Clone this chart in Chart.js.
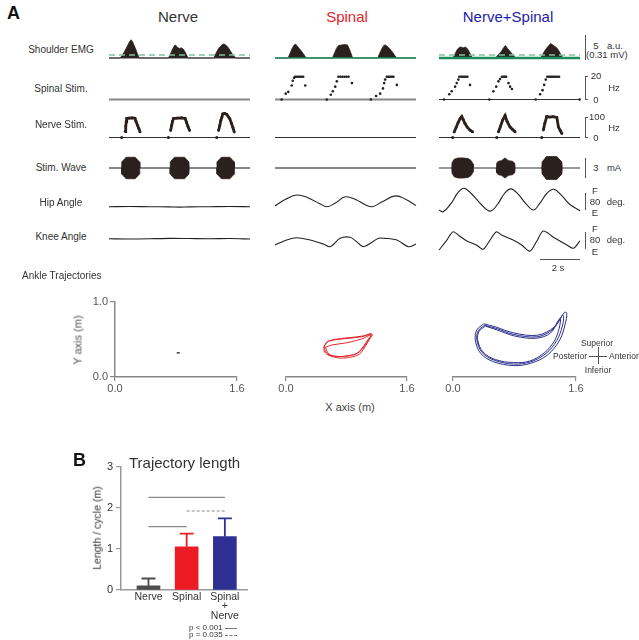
<!DOCTYPE html>
<html>
<head>
<meta charset="utf-8">
<script src="https://cdn.jsdelivr.net/npm/chart.js@4.4.1/dist/chart.umd.min.js"></script>
<style>
body { margin: 0; background: #fff; width: 639px; height: 640px; position: relative; overflow: hidden;
       font-family: "Liberation Sans", Arial, sans-serif; }
canvas { position: absolute; }
.t { position: absolute; white-space: nowrap; line-height: 1; color: #333; }
.ln { position: absolute; background: #555; }
</style>
</head>
<body>
<script>
// ---------- panel A : recordings (time in s) ----------
var traceSpan = [0, 7];
var conditions = ["Nerve", "Spinal", "Nerve+Spinal"];
var rowNames = ["Shoulder EMG", "Spinal Stim.", "Nerve Stim.", "Stim. Wave", "Hip Angle", "Knee Angle"];

// shoulder EMG envelope [t, a.u.]
var emgNerve = [[0,0],[0.55,0],[0.65,0.5],[0.75,1.2],[0.85,2.0],[0.95,2.8],[1.02,3.4],[1.1,3.8],[1.18,3.3],[1.25,2.6],[1.33,1.8],[1.4,1.0],[1.5,0],
  [2.95,0],[3.05,0.8],[3.15,1.8],[3.25,2.6],[3.3,2.7],[3.4,2.2],[3.5,2.0],[3.6,2.1],[3.7,1.8],[3.8,1.1],[3.92,0],
  [5.2,0],[5.3,0.9],[5.4,1.7],[5.5,2.3],[5.6,2.7],[5.68,2.9],[5.76,2.8],[5.85,2.5],[5.95,2.0],[6.05,1.3],[6.15,0.6],[6.3,0],[7,0]];
var emgSpinal = [[0,0],[0.65,0],[0.75,1.0],[0.85,2.0],[0.95,2.7],[1.02,2.9],[1.1,2.5],[1.2,2.0],[1.3,1.5],[1.42,0.8],[1.55,0],
  [2.85,0],[2.95,1.0],[3.05,2.0],[3.15,2.6],[3.3,2.7],[3.45,2.8],[3.6,2.7],[3.7,1.8],[3.78,0.9],[3.85,0],
  [5.1,0],[5.2,1.0],[5.3,1.9],[5.4,2.6],[5.48,2.7],[5.58,2.4],[5.7,1.9],[5.82,1.3],[5.93,0.6],[6.05,0],[7,0]];
var emgBoth = [[0,0],[0.7,0],[0.8,0.9],[0.9,1.7],[1.0,2.2],[1.1,2.3],[1.2,2.1],[1.3,2.3],[1.4,2.0],[1.5,1.3],[1.58,0.6],[1.65,0],
  [2.8,0],[2.95,0.7],[3.1,1.4],[3.2,2.1],[3.3,2.6],[3.4,2.0],[3.5,1.5],[3.6,1.0],[3.7,0.5],[3.8,0],
  [5.05,0],[5.15,0.8],[5.25,1.5],[5.35,2.1],[5.45,2.6],[5.55,3.0],[5.65,2.7],[5.75,2.4],[5.85,2.1],[5.95,1.5],[6.05,0.7],[6.15,0],[7,0]];
var emgThreshold = [0.6, null, 0.6];

// spinal stimulation frequency [t, Hz]
var spinalStimSpinal = [[0.33,0],[0.53,5],[0.66,6.5],[0.83,12],[0.88,16],[0.95,18.5],[1.0,19.5],[1.08,19.5],[1.16,19.5],[1.24,19.5],[1.32,19.5],[1.4,19.5],[1.5,12],
  [2.57,0],[2.77,4],[2.87,7],[2.99,11],[3.07,15.5],[3.15,19.5],[3.25,19.5],[3.35,19.5],[3.45,19.5],[3.55,19.5],[3.65,19.5],[3.82,14],
  [4.76,0],[5.02,3],[5.22,5],[5.36,9.5],[5.42,14],[5.47,17],[5.55,19.5],[5.63,19.5],[5.71,19.5],[5.8,19.5],[5.88,19.5],[6.05,12.5]];
var spinalStimBoth = [[0.25,0],[0.51,4.5],[0.63,7],[0.8,11],[0.88,14],[0.96,17],[1.01,19.5],[1.09,19.5],[1.17,19.5],[1.25,19.5],[1.33,19.5],[1.41,19.5],[1.54,12.5],
  [2.5,0],[2.7,7],[2.84,11],[2.95,15.5],[3.03,17.5],[3.12,19.5],[3.2,19.5],[3.28,19.5],[3.33,19.5],[3.45,14],[3.53,11],[3.62,9],
  [4.8,0],[5.02,4.5],[5.14,8],[5.22,12.5],[5.3,17],[5.38,19.5],[5.46,19.5],[5.54,19.5],[5.62,19.5],[5.7,19.5],[5.78,19.5],[5.86,19.5],[5.96,19.5],[6.98,0]];

// nerve stimulation frequency [t, Hz]: onset pulses and bursts
var nerveOnsetNerve = [0.63, 2.95, 5.35];
var nerveStimNerve = [
  [[0.8,30],[0.83,55],[0.86,80],[0.88,95],[1.0,97],[1.15,98],[1.29,96],[1.34,80],[1.42,60],[1.48,45],[1.54,28]],
  [[3.06,35],[3.11,60],[3.16,82],[3.2,95],[3.4,97],[3.6,98],[3.78,95],[3.85,75],[3.92,55],[4.0,35]],
  [[5.44,35],[5.5,60],[5.55,85],[5.6,100],[5.65,118],[5.75,120],[5.85,115],[5.95,100],[6.0,93],[6.08,70],[6.15,50],[6.22,27]]];
var nerveOnsetBoth = [0.68, 2.87, 5.1];
var nerveStimBoth = [
  [[0.75,27],[0.85,50],[0.95,75],[1.05,95],[1.13,105],[1.2,90],[1.29,70],[1.4,52],[1.54,37],[1.67,28]],
  [[2.95,28],[3.05,55],[3.15,85],[3.28,110],[3.38,80],[3.53,52],[3.65,40],[3.78,28]],
  [[5.18,37],[5.25,70],[5.35,105],[5.5,102],[5.65,104],[5.85,100],[5.93,52],[6.02,35],[6.1,20]]];

// stimulation waveform amplitude envelope [t, mA]
var stimWaveNerve = [
  [[0.62,0],[0.63,0.9],[0.85,1.6],[1.3,1.6],[1.52,0.9],[1.53,0]],
  [[3.03,0],[3.04,0.9],[3.25,1.6],[3.75,1.6],[3.97,0.9],[3.98,0]],
  [[5.35,0],[5.36,0.9],[5.58,1.6],[6.0,1.6],[6.22,0.9],[6.23,0]]];
var stimWaveBoth = [
  [[0.63,0],[0.65,0.8],[0.75,1.3],[0.95,1.5],[1.2,1.5],[1.45,1.4],[1.6,1.1],[1.69,0.6],[1.71,0]],
  [[2.84,0],[2.86,0.7],[2.95,1.0],[3.1,1.1],[3.28,1.5],[3.45,1.1],[3.65,1.0],[3.76,0.7],[3.78,0]],
  [[5.1,0],[5.12,0.9],[5.33,1.7],[5.85,1.7],[6.1,0.9],[6.12,0]]];

// joint angles [t, deg]
var hipNerve = [[0,0],[1,1],[2,0],[3,-1],[3.5,-2],[4,-1],[5,0],[6,1],[7,0]];
var hipSpinal = [[0,4],[0.55,35],[1.08,53],[1.6,42],[2.2,15],[2.58,0],[3.0,17],[3.48,45],[4.0,33],[4.5,8],[4.83,0],[5.3,21],[5.97,49],[6.5,33],[7,5]];
var hipBoth = [[0,-15],[0.21,-23],[0.6,15],[0.95,65],[1.24,84],[1.6,60],[2.1,10],[2.54,-20],[2.9,10],[3.25,60],[3.57,81],[3.95,55],[4.3,15],[4.69,-15],[5.0,15],[5.35,60],[5.69,79],[6.05,55],[6.5,10],[7,-18]];
var kneeNerve = [[0,1],[1,0],[2,1],[3,3],[4,2],[5,1],[6,2],[7,0]];
var kneeSpinal = [[0,-27],[0.58,-4.5],[1.08,6],[1.74,-4.5],[2.4,-23],[2.74,-35],[3.23,3],[3.73,8],[4.05,-12],[4.4,-35],[5.14,3],[5.47,3],[6.05,-4.5],[6.63,-35],[7,-23]];
var kneeBoth = [[0,-50],[0.35,-10],[0.7,33],[1.0,15],[1.36,-8],[1.86,-27],[2.19,-47],[2.5,-10],[2.85,33],[3.1,18],[3.68,-4.5],[4.1,-27],[4.51,-55],[4.85,-10],[5.18,36],[5.68,8],[6.35,-27],[6.68,-42],[7,-8]];

// ankle trajectories [x m, y m]
var ankleNerve = [[0.81,0.32],[0.85,0.32]];
var ankleSpinal = [
  [[0.50,0.40],[0.54,0.46],[0.65,0.49],[0.84,0.51],[1.00,0.53],[1.14,0.56],[1.10,0.49],[1.04,0.39],[0.97,0.30],[0.85,0.26],[0.71,0.25],[0.58,0.28],[0.51,0.33],[0.50,0.40]],
  [[0.52,0.39],[0.60,0.42],[0.80,0.45],[1.00,0.50],[1.12,0.55],[1.08,0.47],[1.01,0.37],[0.94,0.31],[0.82,0.28],[0.68,0.27],[0.57,0.30],[0.52,0.39]],
  [[0.51,0.41],[0.56,0.47],[0.68,0.50],[0.86,0.52],[1.02,0.54],[1.13,0.57],[1.09,0.50],[1.02,0.40],[0.95,0.32],[0.84,0.28],[0.70,0.27],[0.57,0.29],[0.52,0.34],[0.51,0.41]]];
var ankleBoth = [
  [[0.40,0.70],[0.55,0.66],[0.79,0.58],[1.10,0.55],[1.32,0.66],[1.45,0.85],[1.48,0.84],[1.46,0.70],[1.39,0.49],[1.23,0.29],[1.01,0.18],[0.79,0.15],[0.53,0.20],[0.36,0.31],[0.29,0.49],[0.31,0.62],[0.40,0.70]],
  [[0.41,0.68],[0.56,0.64],[0.79,0.56],[1.10,0.53],[1.30,0.63],[1.42,0.81],[1.44,0.80],[1.42,0.66],[1.35,0.48],[1.21,0.31],[1.01,0.20],[0.79,0.17],[0.54,0.22],[0.38,0.32],[0.31,0.49],[0.33,0.61],[0.41,0.68]],
  [[0.42,0.67],[0.57,0.62],[0.80,0.54],[1.08,0.51],[1.27,0.58],[1.38,0.76],[1.40,0.76],[1.37,0.60],[1.31,0.46],[1.19,0.32],[1.00,0.21],[0.79,0.19],[0.55,0.23],[0.39,0.33],[0.32,0.49],[0.34,0.60],[0.42,0.67]]];
var trajXTicks = [0, 1.6];
var trajYTicks = [0, 1];

// ---------- panel B : trajectory length ----------
var groups = ["Nerve", "Spinal", ["Spinal", "+", "Nerve"]];
var lengthMean = [0.1, 1.05, 1.3];
var lengthSD = [0.18, 0.32, 0.44];
var sigPairs = [[0, 2], [1, 2], [0, 1]];
var sigLevel = [2.25, 1.92, 1.54];
var sigP = ["p < 0.001", "p = 0.035", "p < 0.001"];

// ---------- helpers ----------
var DARK = '#2a211e';
function addCanvas(left, top, w, h) {
  var c = document.createElement('canvas');
  c.width = w; c.height = h;
  c.style.left = left + 'px'; c.style.top = top + 'px';
  c.style.width = w + 'px'; c.style.height = h + 'px';
  document.body.appendChild(c);
  return c.getContext('2d');
}
function text(str, x, y, size, o) {
  o = o || {};
  var d = document.createElement('div');
  d.className = 't';
  d.textContent = str;
  d.style.fontSize = size + 'px';
  d.style.left = x + 'px'; d.style.top = y + 'px';
  var tx = o.align == 'left' ? '0' : o.align == 'right' ? '-100%' : '-50%';
  d.style.transform = 'translate(' + tx + ',-50%)' + (o.rotate ? ' rotate(-90deg)' : '');
  if (o.color) d.style.color = o.color;
  if (o.bold) d.style.fontWeight = 'bold';
  document.body.appendChild(d);
}
function rule(x, y, w, h, color, dashed) {
  var d = document.createElement('div');
  d.className = 'ln';
  d.style.left = x + 'px'; d.style.top = y + 'px';
  d.style.width = w + 'px'; d.style.height = h + 'px';
  if (dashed) { d.style.background = 'none'; d.style.borderTop = h + 'px dashed ' + color; d.style.height = '0'; }
  else d.style.background = color || '#555';
  document.body.appendChild(d);
}
function pts(arr) { return arr.map(function (p) { return {x: p[0], y: p[1]}; }); }
function neg(arr) { return arr.map(function (p) { return {x: p[0], y: -p[1]}; }); }
function line(data, color, width, extra) {
  var ds = {data: data, borderColor: color, backgroundColor: color, borderWidth: width, pointRadius: 0, fill: false, tension: 0, clip: false};
  for (var k in extra) ds[k] = extra[k];
  return ds;
}
function baseline(color, width, level) {
  var v = level || 0;
  return line(pts([[traceSpan[0], v], [traceSpan[1], v]]), color, width);
}

// ---------- panel A traces ----------
var colLeft = [109, 275, 439], colWidth = 141;
var rowBox = [ // top px, bottom px, zero px, px per unit
  [34, 61, 58, 4.8],
  [73, 101, 99.5, 1.17],
  [108, 139, 137.5, 0.2],
  [155, 181, 168, 6.7],
  [185, 215, 206.7, 0.22],
  [226, 254, 239, 0.22]
];
function traceChart(col, row, datasets) {
  var P = 5, b = rowBox[row];
  var ctx = addCanvas(colLeft[col] - P, b[0] - P, colWidth + 2 * P, b[1] - b[0] + 2 * P);
  new Chart(ctx, {
    type: 'line',
    data: {datasets: datasets},
    options: {
      responsive: false, animation: false, devicePixelRatio: 1,
      layout: {padding: P},
      plugins: {legend: {display: false}, tooltip: {enabled: false}},
      scales: {
        x: {type: 'linear', display: false, min: traceSpan[0], max: traceSpan[1]},
        y: {display: false, min: -(b[1] - b[2]) / b[3], max: (b[2] - b[0]) / b[3]}
      }
    }
  });
}

// EMG
var emgData = [emgNerve, emgSpinal, emgBoth];
var emgBase = [['#333', 1], ['#1e8c5a', 1.6], ['#1e8c5a', 2.6]];
emgData.forEach(function (d, c) {
  var ds = [baseline(emgBase[c][0], emgBase[c][1])];
  if (emgThreshold[c] != null) ds.unshift(line(pts([[traceSpan[0], emgThreshold[c]], [traceSpan[1], emgThreshold[c]]]), '#7cc49d', 1.5, {borderDash: [6, 4]}));
  ds.push(line(pts(d), DARK, 0.8, {fill: 'origin', backgroundColor: DARK}));
  traceChart(c, 0, ds);
});

// spinal stim
traceChart(0, 1, [baseline('#888', 2)]);
[spinalStimSpinal, spinalStimBoth].forEach(function (d, i) {
  traceChart(i + 1, 1, [
    line(pts(d), '#222', 0, {showLine: false, pointRadius: 1.3, pointBorderWidth: 0}),
    baseline(i == 0 ? '#888' : '#333', i == 0 ? 1.8 : 1.1)
  ]);
});

// nerve stim
function nerveSets(onsets, bursts) {
  var ds = [line(onsets.map(function (t) { return {x: t, y: 0}; }), '#222', 0, {showLine: false, pointRadius: 1.6, pointBorderWidth: 0})];
  bursts.forEach(function (b) {
    ds.push(line(pts(b), DARK, 2.8, {pointRadius: 1.4, pointBorderWidth: 0}));
  });
  ds.push(baseline('#333', 1.1));
  return ds;
}
traceChart(0, 2, nerveSets(nerveOnsetNerve, nerveStimNerve));
traceChart(1, 2, [baseline('#333', 1.1)]);
traceChart(2, 2, nerveSets(nerveOnsetBoth, nerveStimBoth));

// stim wave
function waveSets(bursts, baseColor, baseWidth) {
  var ds = [];
  bursts.forEach(function (b) {
    ds.push(line(pts(b), DARK, 0.8, {fill: 'origin', backgroundColor: DARK}));
    ds.push(line(neg(b), DARK, 0.8, {fill: 'origin', backgroundColor: DARK}));
  });
  ds.push(baseline(baseColor, baseWidth));
  return ds;
}
traceChart(0, 3, waveSets(stimWaveNerve, '#888', 2));
traceChart(1, 3, [baseline('#888', 2)]);
traceChart(2, 3, waveSets(stimWaveBoth, '#333', 1.2));

// angles
[hipNerve, hipSpinal, hipBoth].forEach(function (d, c) {
  traceChart(c, 4, [line(pts(d), '#222', 1.1, {tension: 0.4})]);
});
[kneeNerve, kneeSpinal, kneeBoth].forEach(function (d, c) {
  traceChart(c, 5, [line(pts(d), '#222', 1.1, {tension: 0.3})]);
});

// labels panel A
text('A', 7, 13, 18, {align: 'left', bold: true, color: '#111'});
var titleColor = ['#333', '#e3242b', '#1e22a8'];
var titleX = [178, 347, 508];
conditions.forEach(function (c, i) { text(c, titleX[i], 16, 15, {color: titleColor[i]}); });
var rowY = [50, 89, 125, 168, 203, 237];
rowNames.forEach(function (r, i) { text(r, 61, rowY[i], 10); });

// scale bars
rule(585, 35, 1, 25);
text('5', 596, 46, 9.5); text('a.u.', 615, 46, 9.5); text('(0.31 mV)', 586, 55, 9.5, {align: 'left'});
rule(585, 76, 1, 24); rule(585, 76, 3, 1); rule(585, 99, 3, 1);
text('20', 596, 76, 9.5); text('0', 596, 100, 9.5); text('Hz', 614, 88, 9.5);
rule(585, 117, 1, 21); rule(585, 117, 3, 1); rule(585, 137, 3, 1);
text('100', 597, 117, 9.5); text('0', 596, 138, 9.5); text('Hz', 614, 128, 9.5);
rule(585, 158, 1, 20);
text('3', 596, 168, 9.5); text('mA', 614, 168, 9.5);
rule(585, 193, 1, 17);
text('F', 595, 191, 9.5); text('80', 595, 202, 9.5); text('E', 595, 213, 9.5); text('deg.', 616, 202, 9.5);
rule(585, 232, 1, 17);
text('F', 595, 229, 9.5); text('80', 595, 240, 9.5); text('E', 595, 252, 9.5); text('deg.', 616, 240, 9.5);
rule(540, 259, 40, 1);
text('2 s', 558, 268, 9.5);

// ---------- ankle trajectories ----------
function trajChart(areaLeft, areaRight, showY, datasets) {
  var yW = showY ? 40 : 0, padL = showY ? 0 : 10, top = 301, bottom = 377;
  var ctx = addCanvas(areaLeft - yW - padL, top - 8, yW + padL + (areaRight - areaLeft) + 12, 8 + (bottom - top) + 22);
  var axis = {
    grid: {drawOnChartArea: false, tickLength: 4, color: '#888', lineWidth: 1.2},
    border: {color: '#888', width: 1.5},
    ticks: {font: {size: 11, family: 'Liberation Sans'}, color: '#555', padding: 1, maxRotation: 0,
            callback: function (v) { return Number(v).toFixed(1); }}
  };
  new Chart(ctx, {
    type: 'scatter',
    data: {datasets: datasets},
    options: {
      responsive: false, animation: false, devicePixelRatio: 1,
      layout: {padding: {left: padL, right: 12, top: 8, bottom: 0}},
      plugins: {legend: {display: false}, tooltip: {enabled: false}},
      scales: {
        x: Object.assign({}, axis, {min: 0, max: 1.6,
          afterBuildTicks: function (s) { s.ticks = trajXTicks.map(function (v) { return {value: v}; }); },
          afterFit: function (s) { s.height = 22; }}),
        y: Object.assign({}, axis, {display: showY, min: 0, max: 1,
          grid: {drawOnChartArea: false, tickLength: 5, color: '#888', lineWidth: 1.2},
          ticks: Object.assign({}, axis.ticks, {padding: 2}),
          afterBuildTicks: function (s) { s.ticks = trajYTicks.map(function (v) { return {value: v}; }); },
          afterFit: function (s) { s.width = yW; }})
      }
    }
  });
}
function loopSets(loops, color) {
  return loops.map(function (l) { return line(pts(l), color, 1, {showLine: true, tension: 0.35}); });
}
trajChart(115, 237, true, [line(pts(ankleNerve), '#111', 1.2, {showLine: true})]);
trajChart(286, 407, false, loopSets(ankleSpinal, '#e0262d'));
trajChart(453, 576, false, loopSets(ankleBoth, '#2b2f8c'));

text('Ankle Trajectories', 22, 276, 10, {align: 'left'});
text('Y axis (m)', 78, 340, 11, {rotate: true, color: '#555'});
text('X axis (m)', 350, 407, 11, {color: '#444'});
text('Superior', 597, 343, 8.5); text('Inferior', 598, 370, 8.5);
text('Posterior', 587, 356, 8.5, {align: 'right'}); text('Anterior', 609, 356, 8.5, {align: 'left'});
rule(589, 356, 18, 1, '#555'); rule(598, 347, 1, 17, '#555');

// ---------- panel B ----------
var barColors = ['#4d4d4d', '#ed1c24', '#2e3192'];
var errorBars = {
  id: 'errorBars',
  afterDatasetsDraw: function (chart) {
    var xs = chart.scales.x, ys = chart.scales.y, c = chart.ctx;
    c.save(); c.lineWidth = 1.8;
    lengthMean.forEach(function (m, i) {
      var x = xs.getPixelForValue(i), y0 = ys.getPixelForValue(m), y1 = ys.getPixelForValue(m + lengthSD[i]);
      c.strokeStyle = barColors[i];
      c.beginPath(); c.moveTo(x, y0); c.lineTo(x, y1); c.moveTo(x - 7, y1); c.lineTo(x + 7, y1); c.stroke();
    });
    c.restore();
  }
};
var barSets = [{
  type: 'bar',
  data: lengthMean.map(function (m, i) { return {x: i, y: m}; }),
  backgroundColor: barColors, borderWidth: 0, barThickness: 23
}];
sigPairs.forEach(function (p, i) {
  barSets.unshift({type: 'line', data: [{x: p[0], y: sigLevel[i]}, {x: p[1], y: sigLevel[i]}],
    borderColor: '#888', borderWidth: 1.2, pointRadius: 0, borderDash: sigP[i] == 'p < 0.001' ? [] : [3, 2]});
});
new Chart(addCanvas(60, 457, 197, 167), {
  type: 'bar',
  data: {datasets: barSets},
  options: {
    responsive: false, animation: false, devicePixelRatio: 1,
    layout: {padding: {left: 0, right: 10, top: 8, bottom: 0}},
    plugins: {legend: {display: false}, tooltip: {enabled: false}},
    scales: {
      x: {type: 'linear', min: -0.72, max: 2.58, offset: false,
        grid: {display: false, drawTicks: false},
        border: {color: '#999', width: 1.5},
        afterBuildTicks: function (s) { s.ticks = groups.map(function (g, i) { return {value: i}; }); },
        afterFit: function (s) { s.height = 34; },
        ticks: {font: {size: 10.5, family: 'Liberation Sans', lineHeight: 0.9}, color: '#333', padding: 2, maxRotation: 0,
          callback: function (v) { return groups[v]; }}},
      y: {min: 0, max: 3,
        grid: {drawOnChartArea: false, tickLength: 5, color: '#999', lineWidth: 1.2},
        border: {color: '#999', width: 1.5},
        afterFit: function (s) { s.width = 61; },
        ticks: {stepSize: 1, font: {size: 11, family: 'Liberation Sans'}, color: '#333', padding: 3}}
    }
  },
  plugins: [errorBars]
});

text('B', 73, 460, 18, {align: 'left', bold: true, color: '#111'});
text('Trajectory length', 129, 462, 15, {align: 'left'});
text('Length / cycle (m)', 97, 528, 10.5, {rotate: true});
text(sigP[0], 189, 628, 8, {align: 'left'}); rule(225, 628, 12, 1, '#777');
text(sigP[1], 189, 635, 8, {align: 'left'}); rule(225, 635, 12, 1, '#777', true);
</script>
</body>
</html>
